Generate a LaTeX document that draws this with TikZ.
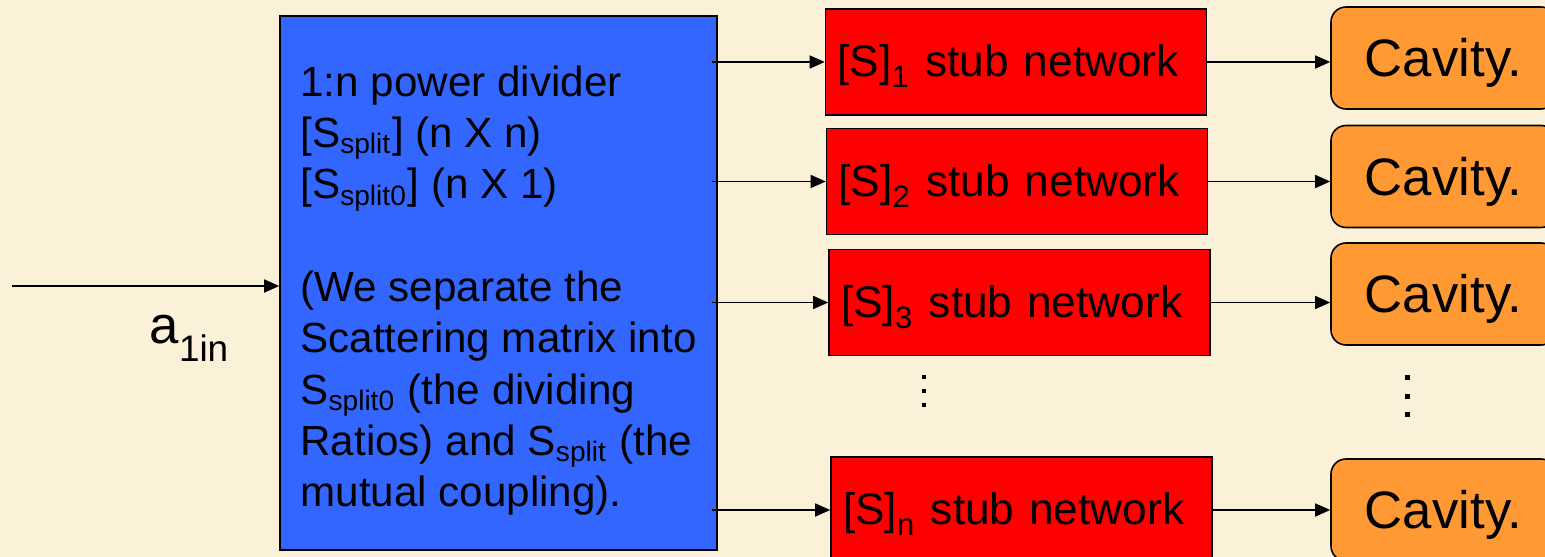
\documentclass[tikz,border=0pt]{standalone}
\usepackage{fontspec}
\setmainfont{Liberation Sans}
\usetikzlibrary{positioning, arrows.meta}

\definecolor{parchment}{RGB}{251,240,216}
\definecolor{divblue}{RGB}{51,102,255}
\definecolor{stubred}{RGB}{255,0,0}
\definecolor{cavorange}{RGB}{255,153,51}

% subscript set a little lower than usual
\newcommand{\lowsub}[2]{\raisebox{-#1}{\textsubscript{#2}}}

\begin{document}
\begin{tikzpicture}[
    x=0.1mm, y=-0.1mm,
    divider/.style={draw, line width=0.45pt, fill=divblue, minimum width=43.7mm, minimum height=53.4mm, align=left, inner sep=0pt, font=\fontsize{12}{14.6}\selectfont},
    stub/.style={draw, line width=0.45pt, fill=stubred, minimum width=38.1mm, minimum height=10.6mm, inner xsep=1.2mm, text width=35.7mm, align=left, text height=9pt, text depth=0.5pt, font=\fontsize{12.6}{15}\selectfont},
    cavity/.style={draw, line width=0.45pt, fill=cavorange, rounded corners=1.5mm, minimum width=22.5mm, minimum height=10.2mm, text height=10.7pt, text depth=0pt, font=\fontsize{15}{18}\selectfont},
    arr/.style={-{Triangle[length=1.5mm, width=1.3mm]}, line width=0.4pt},
    lbl/.style={font=\fontsize{15}{18}\selectfont, inner sep=0pt},
]

% Background
\clip (0,0) rectangle (1545,557);
\fill[parchment] (0,0) rectangle (1545,557);

% Power divider
\node[divider] (div) at (498.5,283) {\rule{0pt}{13pt}1:n power divider\\{}[S\textsubscript{split}] (n X n)\\{}[S\textsubscript{split0}] (n X 1)\\[14.6pt]
(We separate the\\Scattering matrix into\\S\textsubscript{split0} (the dividing\\Ratios) and S\textsubscript{split} (the\\mutual coupling).};

% Stub networks
\node[stub] (s1) at (1016,62) {[S]\lowsub{1.2pt}{1} stub network};
\node[stub] (s2) at (1017,181.5) {[S]\lowsub{1.2pt}{2} stub network};
\node[stub] (s3) at (1019.5,302.5) {[S]\lowsub{1.2pt}{3} stub network};
\node[stub] (sn) at (1021.5,510) {[S]\lowsub{1.2pt}{n} stub network};

% Cavities
\node[cavity] (c1) at (1443.5,58) {Cavity.};
\node[cavity] (c2) at (1443.5,176.5) {Cavity.};
\node[cavity] (c3) at (1443.5,294) {Cavity.};
\node[cavity] (cn) at (1443.5,510) {Cavity.};

% Input
\coordinate (in) at (12,286);
\draw[arr] (in) -- (in -| div.west);
\node[lbl, anchor=base west] (ain) at (149,343) {a\lowsub{2.6pt}{1in}};

% Arrows
\foreach \s in {s1,s2,s3,sn}
    \draw[arr] ([xshift=-0.6mm]div.east |- \s.west) -- (\s.west);
\foreach \s/\c in {s1/c1, s2/c2, s3/c3, sn/cn}
    \draw[arr] (\s.east) -- (\c.west |- \s.east);

% Dots
\foreach \y in {377,391,405}
    \fill (924,\y) +(-2,-2) rectangle +(2,2);
\foreach \y in {378,397,415}
    \fill (1407,\y) +(-2.5,-2.5) rectangle +(2.5,2.5);

\end{tikzpicture}
\end{document}
